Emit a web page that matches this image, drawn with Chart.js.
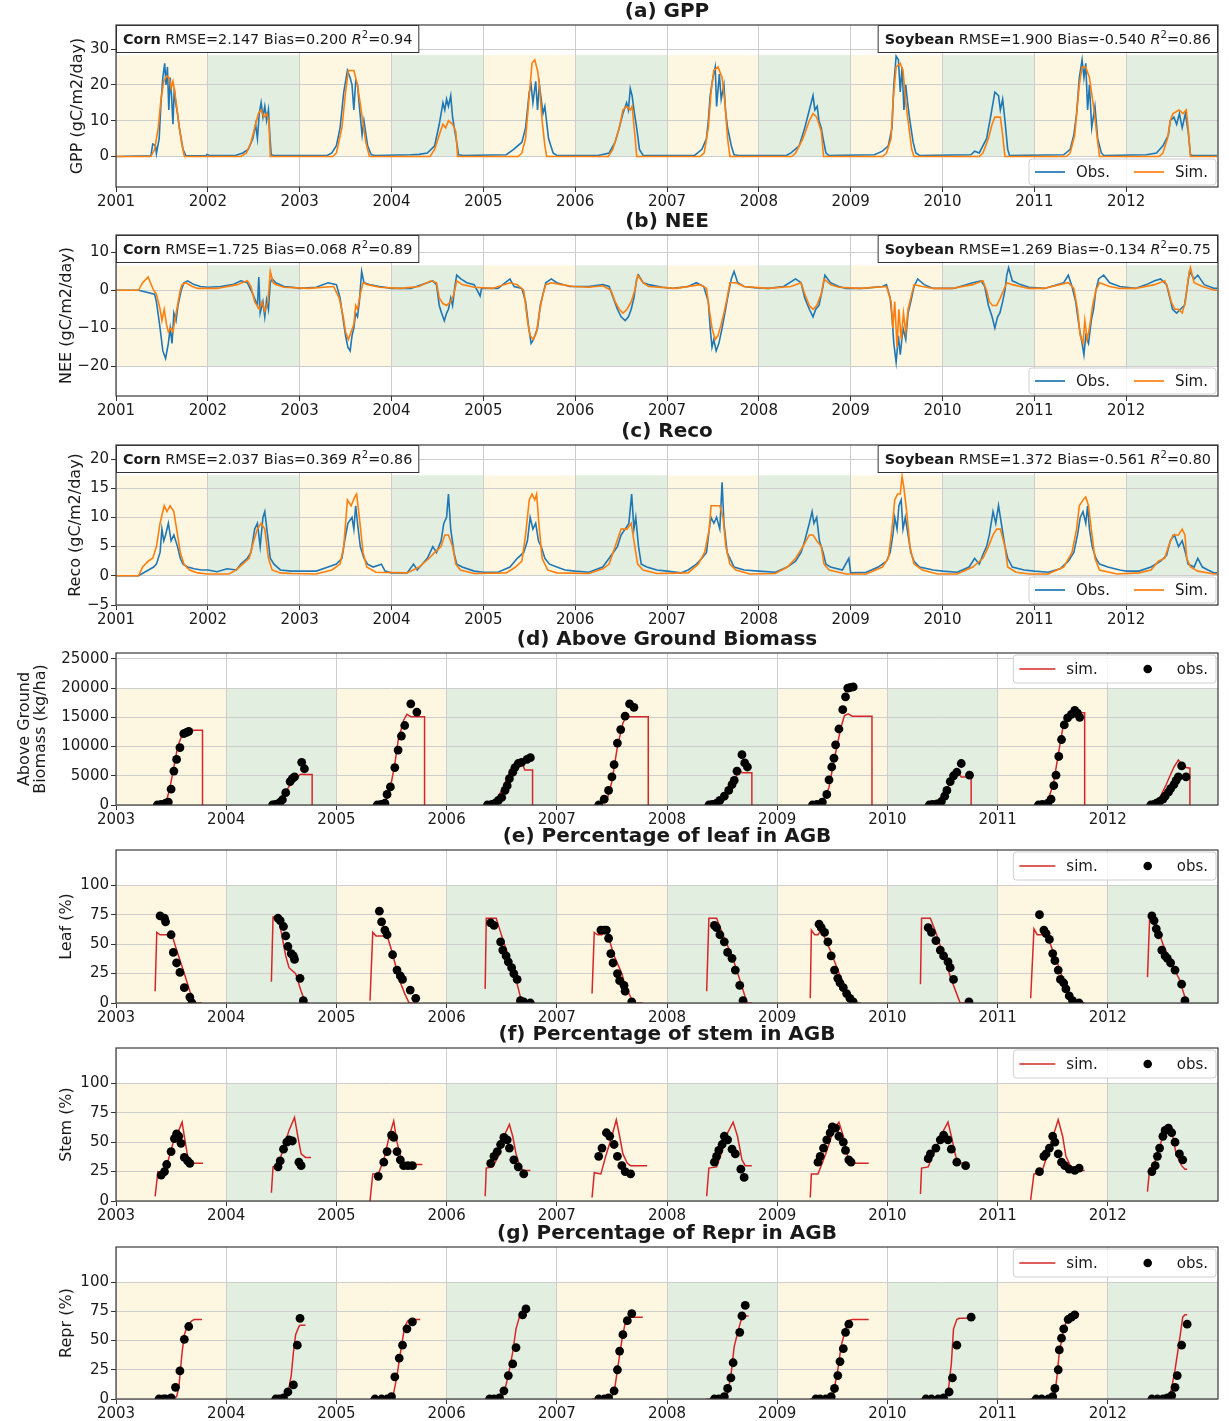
<!DOCTYPE html>
<html>
<head>
<meta charset="utf-8">
<script src="https://cdn.jsdelivr.net/npm/chart.js@4.4.1/dist/chart.umd.min.js"></script>
<style>
  html, body { margin: 0; padding: 0; background: #fff; overflow: hidden; }
  #wrap { position: relative; width: 1229px; height: 1421px; }
  #wrap canvas { position: absolute; left: 0; }
</style>
</head>
<body>
<div id="wrap"></div>
<script>
// ---- axis ticks / labels ----
const years01 = [2001, 2002, 2003, 2004, 2005, 2006, 2007, 2008, 2009, 2010, 2011, 2012];
const years03 = [2003, 2004, 2005, 2006, 2007, 2008, 2009, 2010, 2011, 2012];
const gppTicks = [0, 10, 20, 30];
const neeTicks = [-20, -10, 0, 10];
const recoTicks = [-5, 0, 5, 10, 15, 20];
const agbTicks = [0, 5000, 10000, 15000, 20000, 25000];
const pctTicks = [0, 25, 50, 75, 100];

// ---- stats in the boxes: crop, RMSE, Bias, R2 ----
const gppStats = [['Corn', '2.147', '0.200', '0.94'], ['Soybean', '1.900', '-0.540', '0.86']];
const neeStats = [['Corn', '1.725', '0.068', '0.89'], ['Soybean', '1.269', '-0.134', '0.75']];
const recoStats = [['Corn', '2.037', '0.369', '0.86'], ['Soybean', '1.372', '-0.561', '0.80']];

// ---- (a) GPP, [decimal year, gC/m2/day] ----
const gppObs = [[2001.00,0],[2001.38,0.2],[2001.40,3.5],[2001.43,3],[2001.44,0.8],[2001.47,5],[2001.49,15],[2001.51,22],[2001.53,26],[2001.545,20],[2001.56,25],[2001.575,13],[2001.59,22],[2001.605,17],[2001.62,9],[2001.635,19],[2001.65,15],[2001.67,12],[2001.69,8],[2001.71,5],[2001.73,2],[2001.76,0.3],[2001.98,0.2],[2001.99,0.6],[2002.02,0.3],
  [2002.30,0.3],[2002.38,1],[2002.44,2],[2002.49,5],[2002.52,9],[2002.54,5],[2002.56,12],[2002.58,15],[2002.60,11],[2002.62,14],[2002.64,10],[2002.66,13],[2002.675,6],[2002.69,0.5],[2002.72,0.3],
  [2003.30,0.3],[2003.35,1],[2003.40,3],[2003.44,8],[2003.48,18],[2003.52,24],[2003.55,22],[2003.57,20],[2003.59,13],[2003.61,21],[2003.63,20],[2003.65,14],[2003.68,6],[2003.70,10],[2003.74,3],[2003.78,0.5],[2003.82,0.3],
  [2004.21,0.5],[2004.30,0.6],[2004.39,1],[2004.47,3],[2004.52,9],[2004.56,15],[2004.58,13],[2004.60,16],[2004.62,14],[2004.645,17],[2004.665,11],[2004.69,7],[2004.71,4],[2004.73,0.5],[2004.78,0.3],
  [2005.25,0.5],[2005.33,2],[2005.42,4],[2005.46,8],[2005.50,18],[2005.52,20],[2005.54,15],[2005.57,21],[2005.59,13],[2005.61,20],[2005.63,16],[2005.65,12],[2005.67,14],[2005.71,5],[2005.76,1],[2005.80,0.3],
  [2006.25,0.3],[2006.37,1],[2006.435,4],[2006.48,8],[2006.52,12],[2006.56,15],[2006.58,13],[2006.60,19],[2006.62,17],[2006.64,13],[2006.67,8],[2006.70,2],[2006.74,0.3],
  [2007.30,0.3],[2007.38,2],[2007.43,5],[2007.45,10],[2007.47,17],[2007.50,22],[2007.525,25],[2007.54,14],[2007.57,23],[2007.59,16],[2007.62,20],[2007.64,12],[2007.66,8],[2007.70,3],[2007.73,0.5],[2007.78,0.3],
  [2008.30,0.3],[2008.35,1],[2008.44,3],[2008.50,8],[2008.55,13],[2008.59,17],[2008.61,13],[2008.635,14],[2008.655,10],[2008.68,8],[2008.70,5],[2008.73,1],[2008.76,0.3],
  [2009.26,0.5],[2009.345,1.5],[2009.41,3],[2009.45,8],[2009.47,20],[2009.495,28],[2009.52,27],[2009.54,18],[2009.56,25],[2009.58,13],[2009.60,20],[2009.62,15],[2009.645,10],[2009.68,4],[2009.71,1],[2009.75,0.3],
  [2010.31,0.5],[2010.35,1.5],[2010.40,1],[2010.48,5],[2010.53,12],[2010.57,18],[2010.61,17],[2010.63,13],[2010.655,16],[2010.68,10],[2010.71,2],[2010.73,0.3],
  [2011.32,0.5],[2011.39,2],[2011.43,6],[2011.46,12],[2011.49,22],[2011.52,27],[2011.54,22],[2011.56,26],[2011.58,13],[2011.60,20],[2011.625,8],[2011.66,14],[2011.69,5],[2011.73,1],[2011.755,0.3],
  [2012.22,0.5],[2012.33,1],[2012.40,3],[2012.46,6],[2012.48,10],[2012.52,11],[2012.55,9],[2012.58,12],[2012.61,8],[2012.645,12],[2012.675,7],[2012.70,0.5],[2012.72,0.3],[2012.99,0.3]];
const gppSim = [[2001.00,0],[2001.38,0],[2001.42,2],[2001.46,8],[2001.49,16],[2001.52,21],[2001.55,22.5],[2001.58,22],[2001.60,19],[2001.62,21],[2001.64,18],[2001.66,14],[2001.69,8],[2001.72,3],[2001.745,0],
  [2002.36,0],[2002.42,1],[2002.47,4],[2002.51,8],[2002.55,12],[2002.58,13],[2002.61,11],[2002.64,12],[2002.665,10],[2002.68,0],
  [2003.36,0],[2003.40,1],[2003.46,8],[2003.50,18],[2003.53,24],[2003.59,24],[2003.63,20],[2003.675,12],[2003.72,4],[2003.76,0],
  [2004.42,0],[2004.47,2],[2004.52,6],[2004.56,9],[2004.59,8],[2004.62,10],[2004.665,9],[2004.70,7],[2004.72,0],
  [2005.38,0],[2005.42,1],[2005.46,5],[2005.50,17],[2005.53,26],[2005.56,27],[2005.59,24],[2005.61,20],[2005.64,10],[2005.67,3],[2005.69,0],
  [2006.36,0],[2006.41,2],[2006.48,8],[2006.52,13],[2006.56,14],[2006.60,13],[2006.62,14],[2006.65,6],[2006.67,0],
  [2007.36,0],[2007.405,1],[2007.45,8],[2007.48,18],[2007.51,24],[2007.555,25],[2007.60,22],[2007.63,15],[2007.66,5],[2007.685,0],
  [2008.36,0],[2008.40,1],[2008.48,5],[2008.55,10],[2008.59,12],[2008.63,11],[2008.68,7],[2008.705,0],
  [2009.35,0],[2009.39,1],[2009.44,5],[2009.46,15],[2009.495,25],[2009.54,26],[2009.57,24],[2009.60,15],[2009.635,8],[2009.665,2],[2009.69,0],
  [2010.40,0],[2010.44,1],[2010.50,5],[2010.54,9],[2010.57,11],[2010.63,11],[2010.655,6],[2010.68,0],
  [2011.35,0],[2011.39,1],[2011.44,6],[2011.49,20],[2011.52,25],[2011.56,25],[2011.60,22],[2011.645,14],[2011.69,4],[2011.71,0],
  [2012.36,0],[2012.40,1],[2012.45,5],[2012.48,10],[2012.51,12],[2012.575,13],[2012.62,12],[2012.655,13],[2012.675,8],[2012.70,0],[2012.99,0]];

// ---- (b) NEE ----
const neeObs = [[2001.00,0],[2001.245,0],[2001.42,-1],[2001.44,-3],[2001.48,-10],[2001.51,-16],[2001.54,-18],[2001.57,-14],[2001.59,-10],[2001.61,-14],[2001.63,-6],[2001.654,-8],[2001.675,-4],[2001.71,0],[2001.74,2],[2001.78,2.5],[2001.85,1.5],[2001.92,1],
  [2002.00,0.8],[2002.14,1],[2002.27,1.5],[2002.36,2.5],[2002.43,2],[2002.49,-1],[2002.54,-4],[2002.555,3.5],[2002.57,-6],[2002.60,-3],[2002.62,-7],[2002.64,-2.5],[2002.66,-5],[2002.68,2],[2002.70,3],[2002.74,2],[2002.83,1],[2002.92,0.8],
  [2003.00,0.5],[2003.18,0.8],[2003.31,2],[2003.40,1.5],[2003.44,-2],[2003.475,-8],[2003.50,-12],[2003.525,-15],[2003.55,-16],[2003.57,-12],[2003.59,-10],[2003.61,-6],[2003.63,-7],[2003.65,-3],[2003.675,5],[2003.70,2],[2003.76,1.5],[2003.87,1],
  [2004.00,0.5],[2004.21,0.5],[2004.39,2],[2004.45,2.5],[2004.49,1.5],[2004.52,-4],[2004.545,-6],[2004.575,-8],[2004.60,-6],[2004.62,-5],[2004.645,-2],[2004.665,-4],[2004.69,1],[2004.71,4],[2004.755,3],[2004.82,2],[2004.90,1.5],[2004.965,-1.5],[2004.98,0.5],
  [2005.16,0.5],[2005.29,3],[2005.335,1],[2005.42,0.5],[2005.46,-3],[2005.495,-10],[2005.52,-14],[2005.545,-13],[2005.59,-10],[2005.62,-4],[2005.65,-1],[2005.68,2],[2005.74,3],[2005.80,2],[2005.94,1],
  [2006.15,1],[2006.30,1.5],[2006.37,1],[2006.415,-2],[2006.46,-5],[2006.50,-7],[2006.545,-8],[2006.58,-7],[2006.61,-5],[2006.64,-2],[2006.67,3],[2006.69,4],[2006.74,2],[2006.80,1.5],[2006.95,0.8],
  [2007.06,0.5],[2007.23,1],[2007.32,2],[2007.40,1],[2007.45,-3],[2007.47,-10],[2007.49,-15],[2007.51,-13],[2007.535,-16],[2007.565,-14],[2007.60,-10],[2007.63,-6],[2007.66,-2],[2007.70,3],[2007.73,5],[2007.77,2],[2007.84,1],[2007.95,0.7],
  [2008.10,0.5],[2008.27,1],[2008.40,3],[2008.46,2],[2008.50,-2],[2008.55,-5],[2008.59,-7],[2008.62,-5],[2008.655,-4],[2008.69,0],[2008.72,4],[2008.78,2],[2008.87,1],[2008.95,0.5],
  [2009.13,0.5],[2009.345,1],[2009.39,1.5],[2009.43,-2],[2009.45,-7],[2009.47,-14],[2009.495,-19],[2009.52,-12],[2009.54,-17],[2009.57,-10],[2009.60,-13],[2009.625,-6],[2009.655,-3],[2009.69,1],[2009.73,3],[2009.80,1.5],[2009.90,0.5],
  [2010.12,0.5],[2010.33,2],[2010.42,2.5],[2010.46,1],[2010.50,-4],[2010.54,-7],[2010.57,-10],[2010.60,-7],[2010.625,-6],[2010.655,-3],[2010.68,0],[2010.70,4],[2010.72,6],[2010.76,2.5],[2010.85,1.5],[2010.94,0.8],
  [2011.11,0.5],[2011.32,2],[2011.37,4],[2011.41,1],[2011.45,-3],[2011.49,-10],[2011.52,-14],[2011.54,-17],[2011.56,-12],[2011.59,-14],[2011.62,-8],[2011.645,-5],[2011.67,0],[2011.70,3],[2011.755,4],[2011.82,2],[2011.93,1],
  [2012.10,0.5],[2012.22,1.5],[2012.31,2.5],[2012.375,3],[2012.44,1.5],[2012.475,-2],[2012.505,-5],[2012.55,-6],[2012.59,-5],[2012.635,-4],[2012.66,0],[2012.69,5],[2012.74,3],[2012.78,4],[2012.85,1.5],[2012.96,0.5],[2012.99,0.5]];
const neeSim = [[2001.00,0],[2001.245,0],[2001.29,2],[2001.35,3.5],[2001.375,2],[2001.41,0],[2001.44,-1],[2001.48,-5],[2001.50,-8],[2001.525,-5],[2001.55,-9],[2001.57,-11],[2001.60,-10],[2001.62,-11],[2001.64,-8],[2001.67,-4],[2001.70,0],[2001.72,1.5],[2001.76,2],[2001.83,1],[2001.89,0.5],
  [2002.10,0.5],[2002.32,1.5],[2002.43,2.5],[2002.47,1],[2002.51,-3],[2002.56,-5],[2002.59,-3],[2002.62,-5.5],[2002.655,-3],[2002.68,5],[2002.71,2],[2002.74,1.5],[2002.83,0.8],
  [2003.10,0.5],[2003.37,1],[2003.43,-2],[2003.475,-7],[2003.50,-11],[2003.53,-13],[2003.56,-11],[2003.59,-9],[2003.61,-4],[2003.63,-5],[2003.66,-1],[2003.69,2],[2003.74,1.5],[2003.87,0.8],
  [2004.10,0.5],[2004.30,1],[2004.43,2.5],[2004.49,2],[2004.52,-2],[2004.56,-3.5],[2004.60,-4],[2004.645,-3],[2004.68,-1],[2004.71,2.5],[2004.77,1.5],[2004.90,0.8],
  [2005.10,0.5],[2005.29,2],[2005.37,1.5],[2005.44,0],[2005.48,-8],[2005.51,-12],[2005.545,-13],[2005.58,-11],[2005.61,-6],[2005.64,-2],[2005.68,1.5],[2005.74,2],[2005.85,1.5],[2005.98,1],
  [2006.15,0.8],[2006.30,1.2],[2006.39,0],[2006.435,-3],[2006.48,-5],[2006.52,-6],[2006.565,-5],[2006.61,-3],[2006.65,0],[2006.68,4],[2006.74,2],[2006.80,1],
  [2007.10,0.5],[2007.36,1.5],[2007.43,0.5],[2007.46,-5],[2007.49,-10],[2007.525,-13],[2007.555,-12],[2007.59,-9],[2007.62,-6],[2007.655,-2],[2007.685,2],[2007.75,2],[2007.84,1],
  [2008.10,0.5],[2008.35,1],[2008.46,2],[2008.50,-1],[2008.55,-4],[2008.59,-5],[2008.63,-4],[2008.68,-1],[2008.71,3],[2008.78,1.5],[2008.87,0.8],
  [2009.10,0.5],[2009.39,1],[2009.44,-3],[2009.46,-10],[2009.48,-3],[2009.505,-15],[2009.525,-5],[2009.55,-13],[2009.575,-6],[2009.60,-11],[2009.625,-5],[2009.655,-2],[2009.69,1.5],[2009.78,1],[2009.90,0.5],
  [2010.10,0.5],[2010.33,1.5],[2010.44,2.5],[2010.48,0],[2010.51,-3],[2010.545,-4],[2010.59,-4],[2010.63,-2],[2010.665,0],[2010.70,2],[2010.76,1.5],[2010.94,0.5],
  [2011.10,0.5],[2011.37,2],[2011.43,0.5],[2011.47,-5],[2011.50,-12],[2011.53,-14],[2011.55,-8],[2011.575,-13],[2011.60,-10],[2011.635,-4],[2011.67,0],[2011.71,2],[2011.82,1],[2011.93,0.5],
  [2012.10,0.5],[2012.31,1.5],[2012.42,2.5],[2012.46,0],[2012.49,-3],[2012.53,-5],[2012.57,-5],[2012.61,-6],[2012.645,-3],[2012.675,3],[2012.70,6],[2012.74,2],[2012.83,1],[2012.96,0],[2012.99,0]];

// ---- (c) Reco ----
const recoObs = [[2001.00,0],[2001.245,0],[2001.41,1.5],[2001.44,2],[2001.48,4],[2001.50,8],[2001.52,6],[2001.54,7],[2001.57,9],[2001.60,6],[2001.63,7],[2001.67,5],[2001.70,3],[2001.73,2],[2001.78,1.5],[2001.85,1.2],[2001.93,1],
  [2002.00,1],[2002.10,0.7],[2002.21,1.2],[2002.31,1],[2002.36,2],[2002.43,3],[2002.47,4],[2002.51,8],[2002.54,9],[2002.57,5],[2002.60,10],[2002.62,11],[2002.65,7],[2002.68,3],[2002.72,2],[2002.79,1],[2002.91,0.8],
  [2003.00,0.8],[2003.18,0.8],[2003.31,1.5],[2003.40,2],[2003.46,3],[2003.49,6],[2003.525,9],[2003.57,10],[2003.59,8],[2003.61,12],[2003.63,9],[2003.66,5],[2003.70,3],[2003.74,2],[2003.80,1.5],[2003.89,2],[2003.93,0.8],
  [2004.00,0.5],[2004.17,0.5],[2004.24,2],[2004.28,1],[2004.39,3],[2004.45,5],[2004.49,4],[2004.54,6],[2004.57,9],[2004.60,10],[2004.62,14],[2004.645,8],[2004.68,4],[2004.71,2],[2004.77,1.5],[2004.90,0.8],
  [2005.00,0.6],[2005.16,0.6],[2005.29,1.5],[2005.37,3],[2005.44,4],[2005.48,6],[2005.51,10],[2005.54,8],[2005.57,9],[2005.60,6],[2005.63,5],[2005.67,3],[2005.72,2],[2005.80,1.5],[2005.89,1],
  [2006.00,0.8],[2006.15,0.6],[2006.30,1.5],[2006.37,3],[2006.415,4],[2006.46,5],[2006.50,7],[2006.545,8],[2006.585,9],[2006.615,14],[2006.64,8],[2006.66,10],[2006.69,5],[2006.72,2],[2006.78,1.5],[2006.89,1],
  [2007.00,0.8],[2007.15,0.5],[2007.23,1],[2007.32,2],[2007.38,3],[2007.43,4],[2007.46,8],[2007.48,10],[2007.51,9],[2007.54,10],[2007.575,8],[2007.60,16],[2007.62,9],[2007.655,4],[2007.685,3],[2007.73,1.5],[2007.84,1],
  [2008.00,0.8],[2008.18,0.6],[2008.31,1.5],[2008.40,2.5],[2008.46,4],[2008.50,6],[2008.55,9],[2008.58,11],[2008.60,9],[2008.63,10],[2008.66,6],[2008.70,4],[2008.73,2],[2008.78,1.5],[2008.91,1],[2008.98,3],[2009.00,0.5],
  [2009.17,0.6],[2009.30,1.5],[2009.39,2.5],[2009.43,4],[2009.46,7],[2009.48,10],[2009.505,8],[2009.525,12],[2009.55,13],[2009.57,8],[2009.595,10],[2009.625,7],[2009.655,4],[2009.69,2.5],[2009.75,1.5],[2009.90,1],
  [2010.00,0.8],[2010.16,0.6],[2010.29,1.5],[2010.35,3],[2010.40,2],[2010.45,4],[2010.48,5],[2010.51,7],[2010.55,11],[2010.58,9],[2010.61,12],[2010.64,9],[2010.68,5],[2010.71,3],[2010.76,1.5],[2010.89,1],
  [2011.00,0.8],[2011.15,0.6],[2011.28,1.2],[2011.37,2.5],[2011.43,4],[2011.47,7],[2011.50,10],[2011.53,11],[2011.56,9],[2011.58,12],[2011.60,8],[2011.63,5],[2011.67,3],[2011.71,2],[2011.80,1.5],[2011.93,1],
  [2012.00,0.8],[2012.14,0.8],[2012.27,1.5],[2012.375,2.5],[2012.44,3.5],[2012.48,6],[2012.525,7],[2012.57,5],[2012.61,6],[2012.645,4],[2012.675,2],[2012.74,1.5],[2012.78,3],[2012.83,1.5],[2012.89,1],[2012.96,0.5],[2012.99,0.5]];
const recoSim = [[2001.00,0],[2001.245,0],[2001.29,1.5],[2001.35,2.5],[2001.40,3],[2001.44,5],[2001.48,9],[2001.525,12],[2001.555,11],[2001.59,12],[2001.63,11],[2001.67,7],[2001.70,4],[2001.74,2],[2001.80,1],[2001.89,0.5],
  [2002.00,0.3],[2002.23,0.3],[2002.31,1],[2002.38,2],[2002.45,3],[2002.50,6],[2002.54,8],[2002.58,9],[2002.62,8],[2002.66,3],[2002.70,1],[2002.79,0.5],[2002.91,0.4],
  [2003.18,0.3],[2003.35,1],[2003.44,2],[2003.48,5],[2003.52,13],[2003.56,12],[2003.60,13.5],[2003.62,14],[2003.65,10],[2003.69,4],[2003.73,1.5],[2003.83,0.6],
  [2004.17,0.5],[2004.30,1.5],[2004.41,3],[2004.47,4],[2004.54,5],[2004.58,7],[2004.62,7],[2004.665,5],[2004.70,2],[2004.75,1],[2004.90,0.4],
  [2005.25,0.5],[2005.35,1.5],[2005.42,2.5],[2005.46,7],[2005.50,13],[2005.53,14],[2005.56,13],[2005.58,14],[2005.61,8],[2005.64,3],[2005.70,1],[2005.80,0.5],
  [2006.15,0.4],[2006.30,1.2],[2006.37,2],[2006.435,5],[2006.50,8],[2006.565,8],[2006.61,9],[2006.64,6],[2006.68,2],[2006.74,1],[2006.89,0.4],
  [2007.23,0.5],[2007.34,2],[2007.41,4],[2007.46,8],[2007.48,12],[2007.53,12],[2007.575,12],[2007.61,10],[2007.64,5],[2007.685,2],[2007.75,1],[2007.90,0.3],
  [2008.18,0.4],[2008.31,1.5],[2008.40,3],[2008.48,5],[2008.55,7],[2008.59,7],[2008.63,6],[2008.68,5],[2008.71,2],[2008.765,1],[2008.95,0.3],
  [2009.17,0.3],[2009.345,1.5],[2009.41,3],[2009.45,8],[2009.48,13],[2009.51,14],[2009.54,14],[2009.56,17],[2009.58,15],[2009.61,11],[2009.645,5],[2009.69,2],[2009.78,1],[2009.95,0.3],
  [2010.16,0.3],[2010.33,1.5],[2010.44,3],[2010.50,5],[2010.55,7],[2010.59,8],[2010.63,8],[2010.68,5],[2010.71,1.5],[2010.80,0.6],[2010.95,0.3],
  [2011.15,0.3],[2011.32,1.5],[2011.41,4],[2011.46,8],[2011.49,12],[2011.53,13],[2011.56,13.5],[2011.59,12],[2011.62,8],[2011.66,3],[2011.71,1],[2011.90,0.3],
  [2012.14,0.5],[2012.27,1],[2012.35,2.5],[2012.42,3],[2012.46,5],[2012.51,7],[2012.57,7],[2012.61,8],[2012.64,7],[2012.66,3],[2012.70,1.5],[2012.78,0.8],[2012.96,0.3],[2012.99,0.3]];

// ---- (d) Above ground biomass, kg/ha. sim = one segment per season ----
const agbSim = [
  [[2003.35,0],[2003.455,500],[2003.49,3000],[2003.53,7000],[2003.56,10000],[2003.60,12000],[2003.65,13000],[2003.67,12800],[2003.785,12800],[2003.785,0]],
  [[2004.40,0],[2004.455,500],[2004.53,2000],[2004.60,4000],[2004.67,5200],[2004.69,5300],[2004.70,5200],[2004.78,5200],[2004.78,0]],
  [[2005.33,0],[2005.44,200],[2005.49,3000],[2005.53,7000],[2005.56,11000],[2005.61,14500],[2005.64,15500],[2005.675,15100],[2005.80,15100],[2005.80,0]],
  [[2006.34,0],[2006.43,300],[2006.50,2500],[2006.57,5500],[2006.64,7000],[2006.68,7500],[2006.71,6000],[2006.78,6000],[2006.78,0]],
  [[2007.36,0],[2007.45,500],[2007.50,4000],[2007.55,10000],[2007.60,14000],[2007.63,15200],[2007.66,15100],[2007.83,15100],[2007.83,0]],
  [[2008.36,0],[2008.47,500],[2008.52,1500],[2008.59,3500],[2008.645,5500],[2008.66,6000],[2008.68,5500],[2008.77,5500],[2008.77,0]],
  [[2009.30,0],[2009.41,500],[2009.47,3000],[2009.52,8000],[2009.575,13000],[2009.61,15300],[2009.645,15600],[2009.68,15200],[2009.86,15200],[2009.86,0]],
  [[2010.36,0],[2010.47,500],[2010.53,2000],[2010.58,4500],[2010.615,5800],[2010.635,5900],[2010.67,4800],[2010.76,4800],[2010.76,0]],
  [[2011.33,0],[2011.455,500],[2011.51,4000],[2011.545,8000],[2011.59,13000],[2011.635,15000],[2011.69,16000],[2011.725,15800],[2011.79,15800],[2011.79,0]],
  [[2012.35,0],[2012.46,800],[2012.53,3500],[2012.60,6500],[2012.64,7700],[2012.67,7000],[2012.69,6500],[2012.745,6300],[2012.745,0]]];
const agbObs = [[2003.375,0],[2003.41,100],[2003.45,300],[2003.475,500],[2003.50,2700],[2003.525,5800],[2003.55,7800],[2003.58,9800],[2003.615,12200],[2003.64,12400],[2003.66,12600],
  [2004.42,0],[2004.44,50],[2004.46,150],[2004.49,500],[2004.51,900],[2004.54,2100],[2004.58,4000],[2004.60,4500],[2004.62,4800],[2004.685,7300],[2004.71,6200],
  [2005.37,0],[2005.405,100],[2005.44,300],[2005.46,1800],[2005.49,3100],[2005.53,6400],[2005.56,9400],[2005.59,11800],[2005.62,13600],[2005.675,17300],[2005.73,15900],
  [2006.37,0],[2006.41,100],[2006.44,300],[2006.47,800],[2006.50,1300],[2006.53,2500],[2006.55,3300],[2006.57,4500],[2006.60,5600],[2006.62,6400],[2006.65,7100],[2006.68,7300],[2006.73,7800],[2006.76,8100],
  [2007.38,0],[2007.43,1000],[2007.47,2500],[2007.50,4800],[2007.52,6900],[2007.55,10600],[2007.58,12900],[2007.62,15200],[2007.66,17300],[2007.70,16700],
  [2008.38,0],[2008.41,100],[2008.45,300],[2008.48,800],[2008.52,1500],[2008.56,2500],[2008.59,3500],[2008.61,4200],[2008.635,5800],[2008.68,8600],[2008.705,7200],[2008.73,6500],
  [2009.32,0],[2009.36,100],[2009.41,500],[2009.45,1800],[2009.47,4300],[2009.495,6500],[2009.515,8000],[2009.53,10300],[2009.56,13000],[2009.595,16300],[2009.62,18500],[2009.64,20000],[2009.665,20100],[2009.69,20200],
  [2010.38,0],[2010.41,100],[2010.45,200],[2010.49,600],[2010.52,1500],[2010.54,2500],[2010.57,4000],[2010.60,5000],[2010.63,5600],[2010.67,7100],[2010.745,5100],
  [2011.37,0],[2011.405,100],[2011.455,300],[2011.485,1000],[2011.51,3300],[2011.53,5100],[2011.555,8300],[2011.58,11200],[2011.605,13700],[2011.635,14900],[2011.67,15500],[2011.70,16200],[2011.725,15700],[2011.745,15000],
  [2012.39,0],[2012.42,100],[2012.44,300],[2012.47,600],[2012.50,1000],[2012.52,1500],[2012.55,2200],[2012.57,2800],[2012.60,3500],[2012.62,4200],[2012.64,4800],[2012.67,6700],[2012.71,4800]];

// ---- (e) leaf % ----
const leafSim = [
  [[2003.355,10],[2003.37,60],[2003.40,58],[2003.48,58],[2003.50,60],[2003.55,45],[2003.62,25],[2003.67,10],[2003.71,2],[2003.72,0],[2003.78,0]],
  [[2004.41,18],[2004.425,73],[2004.47,73],[2004.50,60],[2004.54,40],[2004.57,30],[2004.63,25],[2004.68,10],[2004.72,0],[2004.75,0]],
  [[2005.305,2],[2005.33,60],[2005.36,57],[2005.43,57],[2005.45,60],[2005.50,45],[2005.57,20],[2005.62,8],[2005.66,0],[2005.74,0]],
  [[2006.35,12],[2006.36,72],[2006.45,72],[2006.49,60],[2006.56,40],[2006.63,20],[2006.67,5],[2006.69,0],[2006.77,0]],
  [[2007.32,8],[2007.34,60],[2007.37,58],[2007.41,58],[2007.45,62],[2007.52,40],[2007.59,25],[2007.62,15],[2007.68,3],[2007.70,0],[2007.78,0]],
  [[2008.36,10],[2008.38,72],[2008.45,72],[2008.52,55],[2008.59,40],[2008.66,20],[2008.72,2],[2008.73,0],[2008.77,0]],
  [[2009.30,4],[2009.31,62],[2009.34,58],[2009.37,58],[2009.40,62],[2009.48,45],[2009.55,28],[2009.62,12],[2009.69,0],[2009.76,0]],
  [[2010.30,16],[2010.31,72],[2010.39,72],[2010.44,60],[2010.51,40],[2010.58,20],[2010.64,5],[2010.66,0],[2010.70,0]],
  [[2011.30,4],[2011.33,63],[2011.36,58],[2011.40,58],[2011.42,63],[2011.47,52],[2011.54,35],[2011.61,15],[2011.67,3],[2011.70,0],[2011.79,0]],
  [[2012.36,22],[2012.38,73],[2012.41,73],[2012.43,70],[2012.50,50],[2012.57,35],[2012.65,20],[2012.70,5],[2012.72,0]]];
const leafObs = [[2003.40,74],[2003.44,72],[2003.45,69],[2003.50,58],[2003.52,43],[2003.55,34],[2003.58,26],[2003.62,13],[2003.67,5],[2003.69,0],
  [2004.47,72],[2004.49,70],[2004.52,65],[2004.54,57],[2004.56,48],[2004.59,42],[2004.61,40],[2004.62,37],[2004.67,21],[2004.70,2],
  [2005.39,78],[2005.41,69],[2005.44,62],[2005.46,58],[2005.51,41],[2005.55,28],[2005.58,23],[2005.60,20],[2005.67,11],[2005.72,4],
  [2006.40,68],[2006.43,66],[2006.49,52],[2006.51,45],[2006.54,40],[2006.56,35],[2006.59,30],[2006.61,25],[2006.64,20],[2006.67,2],[2006.70,1],[2006.76,0],
  [2007.40,62],[2007.43,62],[2007.45,62],[2007.47,55],[2007.49,42],[2007.51,34],[2007.55,25],[2007.57,19],[2007.61,15],[2007.62,10],[2007.68,1],
  [2008.43,66],[2008.45,64],[2008.48,58],[2008.52,52],[2008.55,43],[2008.59,38],[2008.62,28],[2008.66,15],[2008.69,2],
  [2009.38,67],[2009.40,64],[2009.43,60],[2009.46,52],[2009.49,40],[2009.52,28],[2009.55,21],[2009.57,17],[2009.60,13],[2009.63,8],[2009.66,4],[2009.69,1],
  [2010.37,64],[2010.40,60],[2010.44,53],[2010.48,45],[2010.51,40],[2010.55,35],[2010.57,30],[2010.60,20],[2010.74,1],
  [2011.38,75],[2011.42,62],[2011.44,59],[2011.47,54],[2011.50,42],[2011.52,36],[2011.55,28],[2011.57,20],[2011.60,17],[2011.62,12],[2011.65,6],[2011.68,2],[2011.74,0],
  [2012.40,74],[2012.42,70],[2012.44,63],[2012.46,58],[2012.49,45],[2012.52,40],[2012.54,38],[2012.57,34],[2012.61,28],[2012.67,16],[2012.70,2]];

// ---- (f) stem % ----
const stemSim = [
  [[2003.355,4],[2003.38,25],[2003.44,24],[2003.475,35],[2003.52,50],[2003.57,60],[2003.60,67],[2003.62,55],[2003.65,38],[2003.69,33],[2003.71,32],[2003.79,32]],
  [[2004.41,7],[2004.425,29],[2004.47,30],[2004.52,45],[2004.57,60],[2004.62,71],[2004.65,55],[2004.68,40],[2004.72,37],[2004.77,37]],
  [[2005.305,0],[2005.33,23],[2005.38,23],[2005.43,35],[2005.48,55],[2005.52,68],[2005.55,50],[2005.59,35],[2005.62,31],[2005.78,31]],
  [[2006.35,4],[2006.36,28],[2006.42,29],[2006.48,40],[2006.52,55],[2006.57,65],[2006.60,55],[2006.63,40],[2006.67,28],[2006.70,26],[2006.76,26]],
  [[2007.32,3],[2007.34,24],[2007.40,23],[2007.45,40],[2007.50,55],[2007.54,69],[2007.57,55],[2007.60,40],[2007.64,32],[2007.67,30],[2007.82,30]],
  [[2008.36,4],[2008.38,28],[2008.45,29],[2008.50,42],[2008.55,58],[2008.60,67],[2008.64,55],[2008.68,35],[2008.71,30],[2008.77,30]],
  [[2009.30,3],[2009.31,23],[2009.37,23],[2009.44,40],[2009.51,60],[2009.56,67],[2009.60,55],[2009.64,38],[2009.67,32],[2009.83,32]],
  [[2010.30,6],[2010.31,28],[2010.37,29],[2010.44,45],[2010.51,60],[2010.55,67],[2010.58,55],[2010.62,38],[2010.65,32],[2010.72,32]],
  [[2011.30,1],[2011.33,23],[2011.40,24],[2011.47,45],[2011.52,60],[2011.55,69],[2011.59,55],[2011.62,38],[2011.67,28],[2011.70,26],[2011.79,26]],
  [[2012.36,8],[2012.38,28],[2012.41,28],[2012.45,40],[2012.50,55],[2012.55,63],[2012.59,55],[2012.62,40],[2012.67,30],[2012.70,27],[2012.72,27]]];
const stemObs = [[2003.41,22],[2003.44,25],[2003.46,31],[2003.50,42],[2003.53,53],[2003.55,57],[2003.57,55],[2003.59,49],[2003.62,37],[2003.65,34],[2003.67,32],
  [2004.47,29],[2004.49,34],[2004.52,44],[2004.55,50],[2004.57,52],[2004.60,51],[2004.66,33],[2004.68,30],
  [2005.38,21],[2005.43,33],[2005.46,42],[2005.50,56],[2005.52,54],[2005.55,42],[2005.58,35],[2005.61,30],[2005.65,30],[2005.69,30],
  [2006.40,32],[2006.43,38],[2006.46,42],[2006.49,48],[2006.52,54],[2006.55,52],[2006.57,45],[2006.61,35],[2006.65,29],[2006.70,23],
  [2007.38,38],[2007.41,45],[2007.45,58],[2007.48,55],[2007.52,48],[2007.55,38],[2007.59,30],[2007.62,25],[2007.67,23],
  [2008.43,33],[2008.45,38],[2008.47,43],[2008.50,48],[2008.52,55],[2008.55,52],[2008.59,44],[2008.62,40],[2008.67,27],[2008.70,20],
  [2009.37,33],[2009.39,38],[2009.42,45],[2009.45,52],[2009.48,58],[2009.50,63],[2009.53,62],[2009.56,55],[2009.60,50],[2009.62,43],[2009.65,35],[2009.67,33],
  [2010.37,36],[2010.39,40],[2010.44,45],[2010.48,52],[2010.51,56],[2010.55,52],[2010.58,44],[2010.63,33],[2010.71,30],
  [2011.38,25],[2011.42,38],[2011.44,40],[2011.47,45],[2011.50,55],[2011.52,50],[2011.55,40],[2011.58,33],[2011.61,30],[2011.65,27],[2011.70,26],[2011.74,28],
  [2012.40,25],[2012.43,30],[2012.45,38],[2012.47,45],[2012.50,55],[2012.52,60],[2012.55,62],[2012.58,58],[2012.61,50],[2012.65,40],[2012.68,35]];

// ---- (g) reproductive % ----
const reprSim = [
  [[2003.355,0],[2003.51,0],[2003.55,2],[2003.57,10],[2003.60,40],[2003.62,55],[2003.65,63],[2003.69,67],[2003.71,68],[2003.78,68]],
  [[2004.41,0],[2004.54,0],[2004.56,5],[2004.59,20],[2004.61,40],[2004.63,55],[2004.66,62],[2004.67,63],[2004.72,63]],
  [[2005.305,0],[2005.50,0],[2005.52,5],[2005.55,20],[2005.59,45],[2005.62,62],[2005.65,67],[2005.67,68],[2005.76,68]],
  [[2006.35,0],[2006.49,0],[2006.52,5],[2006.56,20],[2006.60,40],[2006.63,60],[2006.66,70],[2006.69,73],[2006.72,73]],
  [[2007.32,0],[2007.48,0],[2007.52,5],[2007.55,25],[2007.59,50],[2007.62,65],[2007.66,70],[2007.78,70]],
  [[2008.36,0],[2008.52,0],[2008.55,5],[2008.58,20],[2008.61,45],[2008.65,60],[2008.68,70],[2008.71,71],[2008.74,71]],
  [[2009.30,0],[2009.48,0],[2009.51,5],[2009.55,25],[2009.58,45],[2009.62,60],[2009.65,67],[2009.68,68],[2009.83,68]],
  [[2010.30,0],[2010.51,0],[2010.55,5],[2010.58,30],[2010.60,60],[2010.63,68],[2010.65,69],[2010.76,69]],
  [[2011.30,0],[2011.48,0],[2011.52,5],[2011.54,20],[2011.56,40],[2011.60,60],[2011.63,68],[2011.67,72],[2011.70,73],[2011.74,73]],
  [[2012.36,0],[2012.54,0],[2012.57,5],[2012.61,25],[2012.65,50],[2012.68,70],[2012.70,72],[2012.72,72]]];
const reprObs = [[2003.39,0],[2003.43,0],[2003.45,0],[2003.50,1],[2003.54,10],[2003.58,24],[2003.62,51],[2003.66,62],
  [2004.45,0],[2004.48,0],[2004.52,1],[2004.56,6],[2004.61,12],[2004.645,46],[2004.67,69],
  [2005.35,0],[2005.41,0],[2005.46,0],[2005.50,2],[2005.53,19],[2005.57,35],[2005.60,46],[2005.64,60],[2005.69,66],
  [2006.39,0],[2006.43,0],[2006.48,1],[2006.52,7],[2006.56,20],[2006.60,30],[2006.63,44],[2006.69,72],[2006.72,77],
  [2007.38,0],[2007.43,0],[2007.47,1],[2007.52,7],[2007.55,25],[2007.57,41],[2007.60,55],[2007.64,67],[2007.68,73],
  [2008.43,0],[2008.47,0],[2008.52,2],[2008.55,9],[2008.58,18],[2008.60,31],[2008.66,57],[2008.68,71],[2008.71,80],
  [2009.35,0],[2009.39,0],[2009.44,0],[2009.49,2],[2009.52,9],[2009.55,20],[2009.57,32],[2009.60,43],[2009.62,57],[2009.65,64],
  [2010.35,0],[2010.40,0],[2010.46,0],[2010.51,1],[2010.56,6],[2010.59,18],[2010.63,46],[2010.76,70],
  [2011.35,0],[2011.40,0],[2011.46,0],[2011.50,2],[2011.52,9],[2011.55,25],[2011.56,42],[2011.58,52],[2011.60,60],[2011.64,68],[2011.67,70],[2011.70,72],
  [2012.40,0],[2012.45,0],[2012.50,0],[2012.54,1],[2012.58,3],[2012.61,10],[2012.63,20],[2012.67,46],[2012.72,64]];

// ---------------------------------------------------------------
const FONT = "'DejaVu Sans', 'Liberation Sans', sans-serif";
const TXT = '#1a1a1a';
const CORN_BG = 'rgb(253,247,226)';
const SOY_BG = 'rgb(226,238,223)';

// panel layout (plot area top/bottom in page pixels)
const panels = [
  { title: '(a) GPP', top: 25, bottom: 187, yMin: -8.5, yMax: 36.7, yTicks: gppTicks, yTitle: 'GPP (gC/m2/day)', yPad: 68,
    band: [0, 28.3], years: years01, xMin: 2001, kind: 'flux', obs: gppObs, sim: gppSim, stats: gppStats },
  { title: '(b) NEE', top: 235, bottom: 396, yMin: -27.9, yMax: 14.6, yTicks: neeTicks, yTitle: 'NEE (gC/m2/day)', yPad: 57,
    band: [-20, 6.6], years: years01, xMin: 2001, kind: 'flux', obs: neeObs, sim: neeSim, stats: neeStats },
  { title: '(c) Reco', top: 445, bottom: 605, yMin: -5, yMax: 22.4, yTicks: recoTicks, yTitle: 'Reco (gC/m2/day)', yPad: 66,
    band: [0, 17.2], years: years01, xMin: 2001, kind: 'flux', obs: recoObs, sim: recoSim, stats: recoStats },
  { title: '(d) Above Ground Biomass', top: 653, bottom: 805, yMin: 0, yMax: 26000, yTicks: agbTicks, yTitle: ['Above Ground', 'Biomass (kg/ha)'], yPad: 17, yLH: 0.98,
    band: [0, 20000], years: years03, xMin: 2003, kind: 'crop', obs: agbObs, sim: agbSim },
  { title: '(e) Percentage of leaf in AGB', top: 850, bottom: 1003, yMin: 0, yMax: 130, yTicks: pctTicks, yTitle: 'Leaf (%)', yPad: 57,
    band: [0, 100], years: years03, xMin: 2003, kind: 'crop', obs: leafObs, sim: leafSim },
  { title: '(f) Percentage of stem in AGB', top: 1048, bottom: 1201, yMin: 0, yMax: 130, yTicks: pctTicks, yTitle: 'Stem (%)', yPad: 57,
    band: [0, 100], years: years03, xMin: 2003, kind: 'crop', obs: stemObs, sim: stemSim },
  { title: '(g) Percentage of Repr in AGB', top: 1247, bottom: 1399, yMin: 0, yMax: 130, yTicks: pctTicks, yTitle: 'Repr (%)', yPad: 57,
    band: [0, 100], years: years03, xMin: 2003, kind: 'crop', obs: reprObs, sim: reprSim }
];

const pts = arr => arr.map(p => ({ x: p[0], y: p[1] }));
// season segments joined with a gap between them
const segs = list => list.flatMap(s => [...pts(s), { x: s[s.length - 1][0] + 0.005, y: null }]);
const fmtTick = v => (v < 0 ? '\u2212' + (-v) : String(v));

// crop-year background bands: odd years corn, even years soybean
const bandPlugin = {
  id: 'bands',
  beforeDraw(chart, args, o) {
    const { ctx, chartArea: a, scales: { x, y } } = chart;
    const y0 = y.getPixelForValue(o.lo), y1 = y.getPixelForValue(o.hi);
    ctx.save();
    for (let yr = o.from; yr < o.to; yr++) {
      const xa = Math.max(a.left, x.getPixelForValue(yr));
      const xb = Math.min(a.right, x.getPixelForValue(yr + 1));
      ctx.fillStyle = yr % 2 ? CORN_BG : SOY_BG;
      ctx.fillRect(xa, y1, xb - xa, y0 - y1);
    }
    ctx.restore();
  }
};

function richParts(s) {
  return [
    { t: s[0], f: 'bold 14.4px ' + FONT },
    { t: ' RMSE=' + s[1] + ' Bias=' + s[2] + ' ', f: '14.4px ' + FONT },
    { t: 'R', f: 'italic 14.4px ' + FONT },
    { t: '2', f: '10px ' + FONT, dy: -6 },
    { t: '=' + s[3], f: '14.4px ' + FONT }
  ];
}
function richWidth(ctx, parts) {
  let w = 0;
  parts.forEach(p => { ctx.font = p.f; w += ctx.measureText(p.t).width; });
  return w;
}
function drawRich(ctx, parts, x, y) {
  parts.forEach(p => {
    ctx.font = p.f;
    ctx.fillText(p.t, x, y + (p.dy || 0));
    x += ctx.measureText(p.t).width;
  });
}
function roundRect(ctx, x, y, w, h, r) {
  ctx.beginPath();
  ctx.moveTo(x + r, y);
  ctx.arcTo(x + w, y, x + w, y + h, r);
  ctx.arcTo(x + w, y + h, x, y + h, r);
  ctx.arcTo(x, y + h, x, y, r);
  ctx.arcTo(x, y, x + w, y, r);
  ctx.closePath();
}

// frame, title, stat boxes and legend
const decorPlugin = {
  id: 'decor',
  afterDatasetsDraw(chart) {
    const { ctx, chartArea: a } = chart;
    ctx.save();
    ctx.strokeStyle = '#3a3a3a';
    ctx.lineWidth = 1.2;
    ctx.strokeRect(a.left, a.top, a.right - a.left, a.bottom - a.top);
    ctx.restore();
  },
  afterDraw(chart, args, o) {
    const { ctx, chartArea: a } = chart;
    ctx.save();
    ctx.fillStyle = TXT;
    ctx.font = 'bold 20px ' + FONT;
    ctx.textAlign = 'center';
    ctx.textBaseline = 'middle';
    ctx.fillText(o.title, (a.left + a.right) / 2, a.top - 13);
    ctx.textAlign = 'left';
    ctx.textBaseline = 'alphabetic';

    if (o.kind === 'flux') {
      // stat boxes
      o.stats.forEach((s, i) => {
        const parts = richParts(s);
        const w = richWidth(ctx, parts) + 14, h = 28;
        const bx = i === 0 ? a.left : a.right - w;
        ctx.fillStyle = '#fff';
        ctx.fillRect(bx, a.top, w, h);
        ctx.strokeStyle = '#333';
        ctx.lineWidth = 1;
        ctx.strokeRect(bx + 0.5, a.top + 0.5, w - 1, h - 1);
        ctx.fillStyle = TXT;
        drawRich(ctx, parts, bx + 7, a.top + 19);
      });
    }
    // legend
    ctx.font = '15px ' + FONT;
    const items = o.kind === 'flux'
      ? [{ label: 'Obs.', color: '#1f77b4', line: true }, { label: 'Sim.', color: '#ff7f0e', line: true }]
      : [{ label: 'sim.', color: '#d62728', line: true }, { label: 'obs.', color: '#000', line: false }];
    const hl = o.kind === 'flux' ? 30 : 36, gap = 11, col = o.kind === 'flux' ? 24 : 32, pad = 6;
    let W = pad * 2 + 2;
    items.forEach((it, i) => { W += hl + gap + ctx.measureText(it.label).width + (i ? 0 : col); });
    const H = o.kind === 'flux' ? 26 : 28;
    const lx = a.right - 2 - W;
    const ly = o.kind === 'flux' ? a.bottom - 2 - H : a.top + 2;
    ctx.fillStyle = 'rgba(255,255,255,0.85)';
    roundRect(ctx, lx, ly, W, H, 3);
    ctx.fill();
    ctx.strokeStyle = '#d0d0d0';
    ctx.lineWidth = 1;
    ctx.stroke();
    let cx = lx + pad;
    const cy = ly + H / 2;
    items.forEach((it, i) => {
      if (it.line) {
        ctx.strokeStyle = it.color;
        ctx.lineWidth = 1.7;
        ctx.beginPath();
        ctx.moveTo(cx, cy);
        ctx.lineTo(cx + hl, cy);
        ctx.stroke();
      } else {
        ctx.fillStyle = it.color;
        ctx.beginPath();
        ctx.arc(cx + hl / 2, cy, 4.3, 0, Math.PI * 2);
        ctx.fill();
      }
      cx += hl + gap;
      ctx.fillStyle = TXT;
      ctx.textBaseline = 'middle';
      ctx.fillText(it.label, cx, cy + 1);
      cx += ctx.measureText(it.label).width + col;
    });
    ctx.restore();
  }
};

const wrap = document.getElementById('wrap');
panels.forEach(p => {
  const PT = 28, PB = 26;
  const cv = document.createElement('canvas');
  const h = p.bottom - p.top + PT + PB;
  cv.width = 1229; cv.height = h;
  cv.style.top = (p.top - PT) + 'px';
  cv.style.width = '1229px'; cv.style.height = h + 'px';
  wrap.appendChild(cv);

  let datasets;
  if (p.kind === 'flux') {
    datasets = [
      { label: 'Obs.', data: pts(p.obs), borderColor: '#1f77b4', borderWidth: 1.6, pointRadius: 0, order: 1 },
      { label: 'Sim.', data: pts(p.sim), borderColor: '#ff7f0e', borderWidth: 1.6, pointRadius: 0, order: 0 }
    ];
  } else {
    datasets = [
      { label: 'sim.', data: segs(p.sim), borderColor: '#d62728', borderWidth: 1.5, pointRadius: 0, spanGaps: false, order: 1 },
      { label: 'obs.', data: pts(p.obs), showLine: false, pointRadius: 4.4, pointBackgroundColor: '#000',
        pointBorderWidth: 0, borderColor: '#000', order: 0 }
    ];
  }

  const gridStyle = { color: '#cdcdcd', lineWidth: 1, tickLength: 5, tickColor: '#333', drawTicks: true };
  new Chart(cv, {
    type: 'line',
    data: { datasets },
    options: {
      responsive: false,
      animation: false,
      devicePixelRatio: 1,
      events: [],
      layout: { padding: { top: PT, bottom: 2, left: 0, right: 11 } },
      plugins: {
        legend: { display: false },
        tooltip: { enabled: false },
        bands: { lo: p.band[0], hi: p.band[1], from: p.xMin, to: 2013 },
        decor: { title: p.title, kind: p.kind, stats: p.stats }
      },
      scales: {
        x: {
          type: 'linear', min: p.xMin, max: 2013,
          afterFit: s => { s.height = PB - 2; },
          afterBuildTicks: s => { s.ticks = p.years.map(v => ({ value: v })); },
          ticks: { callback: v => String(v), font: { family: FONT, size: 15 }, color: TXT, padding: 1, maxRotation: 0, autoSkip: false },
          grid: gridStyle,
          border: { display: false }
        },
        y: {
          type: 'linear', min: p.yMin, max: p.yMax,
          afterFit: s => { s.width = 116; },
          afterBuildTicks: s => { s.ticks = p.yTicks.map(v => ({ value: v })); },
          ticks: { callback: fmtTick, font: { family: FONT, size: 15 }, color: TXT, padding: 2 },
          grid: gridStyle,
          border: { display: false },
          title: { display: true, text: p.yTitle, color: TXT,
                   font: { family: FONT, size: 16, lineHeight: p.yLH || 1.2 }, padding: { top: p.yPad, bottom: 0 } }
        }
      }
    },
    plugins: [bandPlugin, decorPlugin]
  });
});
</script>
</body>
</html>
